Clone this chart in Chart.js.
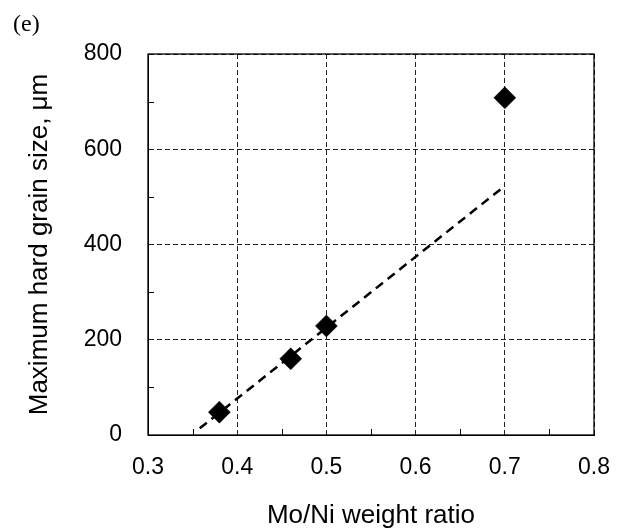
<!DOCTYPE html>
<html>
<head>
<meta charset="utf-8">
<script src="https://cdn.jsdelivr.net/npm/chart.js@4.4.0/dist/chart.umd.min.js"></script>
<style>
html,body{margin:0;padding:0;background:#fff;}
#wrap{width:620px;height:531px;}
</style>
</head>
<body>
<div id="wrap"><canvas id="c" width="620" height="531"></canvas></div>
<script>
// Data
const moNiRatio = [0.38, 0.46, 0.50, 0.70];
const maxGrainSize = [48, 160, 229, 708];
const trendX = [0.358, 0.70];
const trendY = [14, 523];
const xMinorTicks = [0.35, 0.45, 0.55, 0.65, 0.75];
const yMinorTicks = [100, 300, 500, 700];
const panelLabel = '(e)';
const xTitle = 'Mo/Ni weight ratio';
const yTitle = 'Maximum hard grain size, μm';

const SANS = '"Liberation Sans", Arial, sans-serif';

const framePlugin = {
  id: 'frame',
  afterDatasetsDraw(chart) {
    const {ctx, chartArea: a, scales: {x, y}} = chart;
    ctx.save();
    ctx.strokeStyle = '#000';
    ctx.lineWidth = 1;
    ctx.setLineDash([]);
    ctx.beginPath();
    yMinorTicks.forEach(v => {
      const py = Math.round(y.getPixelForValue(v)) + 0.5;
      ctx.moveTo(a.left, py); ctx.lineTo(a.left + 6, py);
    });
    xMinorTicks.forEach(v => {
      const px = Math.round(x.getPixelForValue(v)) + 0.5;
      ctx.moveTo(px, a.bottom); ctx.lineTo(px, a.bottom - 6);
    });
    ctx.stroke();
    ctx.lineWidth = 1.3;
    ctx.strokeRect(a.left, a.top, a.right - a.left, a.bottom - a.top);
    ctx.restore();
  },
  afterDraw(chart) {
    const ctx = chart.ctx;
    ctx.save();
    ctx.fillStyle = '#000';
    ctx.font = '24px "Liberation Serif", "Times New Roman", serif';
    ctx.textBaseline = 'alphabetic';
    ctx.textAlign = 'left';
    ctx.fillText(panelLabel, 13, 31);
    ctx.restore();
  }
};

const gridCommon = {
  color: '#222',
  lineWidth: 1,
  drawTicks: false,
};

new Chart(document.getElementById('c'), {
  type: 'scatter',
  data: {
    datasets: [
      {
        label: 'data',
        data: moNiRatio.map((v, i) => ({x: v, y: maxGrainSize[i]})),
        pointStyle: 'rectRot',
        pointRadius: 11,
        pointHoverRadius: 11,
        backgroundColor: '#000',
        borderColor: '#000',
        borderWidth: 0.5,
        showLine: false,
        order: 1
      },
      {
        label: 'trend',
        data: trendX.map((v, i) => ({x: v, y: trendY[i]})),
        showLine: true,
        borderColor: '#000',
        borderWidth: 2.5,
        borderDash: [9, 6],
        pointRadius: 0,
        fill: false,
        order: 2
      }
    ]
  },
  options: {
    responsive: false,
    animation: false,
    devicePixelRatio: 1,
    layout: {padding: {top: 54, right: 26, left: 0, bottom: 0}},
    plugins: {legend: {display: false}, tooltip: {enabled: false}},
    scales: {
      x: {
        type: 'linear',
        min: 0.3, max: 0.8,
        afterFit(s) { s.height = 96; s.paddingLeft = 0; s.paddingRight = 0; },
        ticks: {
          stepSize: 0.1,
          color: '#000',
          padding: 19,
          font: {family: SANS, size: 23},
          callback: v => Number(v).toFixed(1)
        },
        grid: gridCommon,
        border: {display: true, color: '#000', width: 1, dash: [5, 3]},
        title: {
          display: true, text: xTitle, color: '#000',
          font: {family: SANS, size: 26},
          padding: {top: 0, bottom: 0}
        }
      },
      y: {
        type: 'linear',
        min: 0, max: 800,
        afterFit(s) { s.width = 148; s.paddingTop = 0; s.paddingBottom = 0; },
        ticks: {
          stepSize: 200,
          color: '#000',
          padding: 26,
          font: {family: SANS, size: 23}
        },
        grid: gridCommon,
        border: {display: true, color: '#000', width: 1, dash: [5, 3]},
        title: {
          display: true, text: yTitle, color: '#000',
          font: {family: SANS, size: 26},
          padding: {top: 24, bottom: 0}
        }
      }
    }
  },
  plugins: [framePlugin]
});
</script>
</body>
</html>
